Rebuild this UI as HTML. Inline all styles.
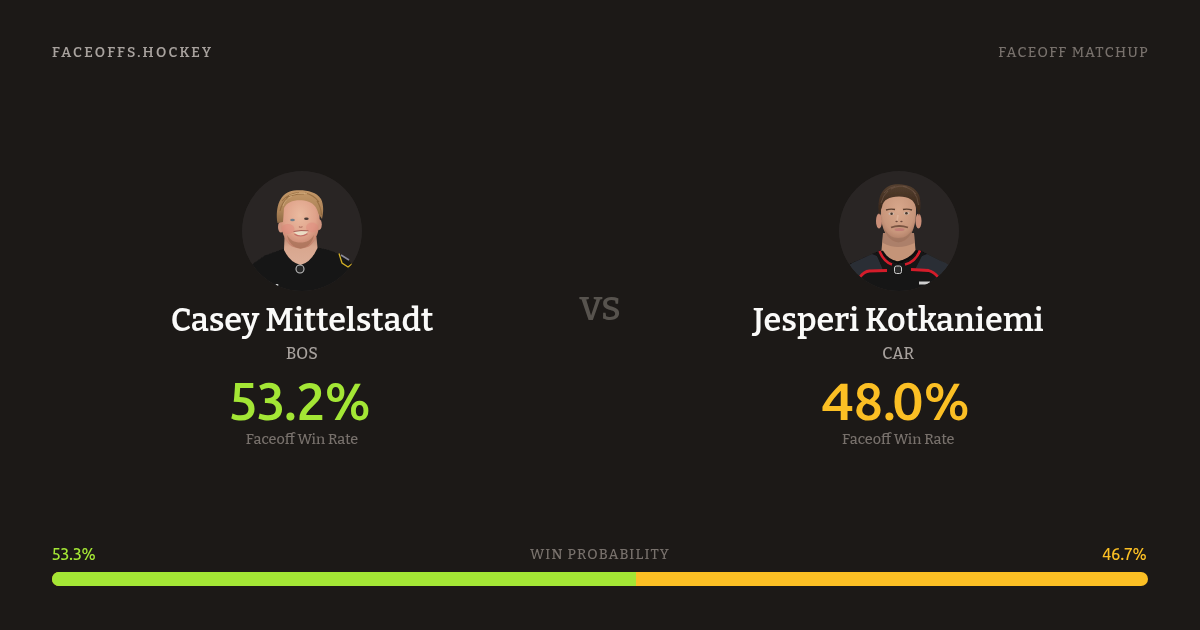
<!DOCTYPE html>
<html><head><meta charset="utf-8">
<style>
*{margin:0;padding:0;box-sizing:border-box}
html,body{width:1200px;height:630px;overflow:hidden;background:#1c1917}
body{position:relative;font-family:"Bitter","Liberation Serif",serif;}
.t{position:absolute;white-space:nowrap;line-height:1}
.sans{font-family:"Ubuntu Sans","Liberation Sans",sans-serif;font-variant-numeric:proportional-nums}
.brand{left:52px;top:45.5px;font-size:14px;letter-spacing:2.22px;color:#a8a29e;font-weight:600}
.tag{right:51px;top:45.5px;font-size:14px;letter-spacing:1.4px;color:#78716c;font-weight:500}
.c{text-align:center;width:500px}
.l{left:52px}.r{left:648.3px}
.photo{position:absolute;top:171px;width:120px;height:120px;border-radius:50%;background:#292524;overflow:hidden}
.p1{left:242px}.p2{left:839px}
.name{font-size:32.4px;font-weight:600;color:#fafaf9;top:305px}
.team{font-size:16px;color:#a8a29e;font-weight:500;top:346px;letter-spacing:0.2px}
.pct{font-size:52px;font-weight:600;top:377.2px}
.lbl{font-size:14.4px;color:#78716c;top:433px;font-weight:500}
.vs{left:552px;width:96px;text-align:center;top:293px;font-size:33px;font-weight:600;color:#57534e}
.bl{left:52px;top:547.2px;font-size:16.4px;font-weight:500;color:#a3e635}
.br{right:53.3px;top:547.2px;font-size:16.4px;font-weight:500;color:#fbbf24}
.bc{left:0;width:1200px;text-align:center;top:547.5px;font-size:14px;letter-spacing:1.25px;color:#78716c;font-weight:500}
.w4{display:inline-block;transform:scaleX(1.15);transform-origin:0 0;margin-right:4px}
.w0{display:inline-block;transform:scaleX(1.08);transform-origin:50% 0;margin-left:-2.6px;margin-right:0.2px}
.bar{position:absolute;left:52px;top:572px;width:1096px;height:14px;border-radius:7px;overflow:hidden;background:#fbbf24}
.bar .g{position:absolute;left:0;top:0;bottom:0;width:53.3%;background:#a3e635}
</style></head><body><div id="w" style="position:absolute;left:0;top:0;width:1200px;height:630px;will-change:transform">
<div class="t brand">FACEOFFS.HOCKEY</div>
<div class="t tag">FACEOFF MATCHUP</div>

<div class="photo p1"><svg width="120" height="120" viewBox="0 0 120 120">
<defs>
<clipPath id="cc1"><circle cx="60" cy="60" r="60"/></clipPath>
<filter id="sf1" x="-5%" y="-5%" width="110%" height="110%"><feGaussianBlur stdDeviation="0.65"/></filter>
<radialGradient id="sk1" cx="50%" cy="36%" r="62%"><stop offset="0" stop-color="#ebbba0"/><stop offset="0.65" stop-color="#dfa28a"/><stop offset="1" stop-color="#c4846e"/></radialGradient>
<linearGradient id="hr1" x1="0" y1="0" x2="0" y2="1"><stop offset="0" stop-color="#c49868"/><stop offset="0.6" stop-color="#ae8458"/><stop offset="1" stop-color="#8f6a45"/></linearGradient>
<linearGradient id="nk1" x1="0" y1="0" x2="0" y2="1"><stop offset="0" stop-color="#b98770"/><stop offset="0.35" stop-color="#d8a68e"/><stop offset="1" stop-color="#dcae97"/></linearGradient>
</defs>
<g clip-path="url(#cc1)">
<circle cx="60" cy="60" r="60" fill="#292524"/>
<g filter="url(#sf1)">
<path d="M6,120 L6,97 Q10,93 23,84.5 L41,78 L75,76.5 L87,79 L98,83.5 Q107,89 114,97 L114,120 Z" fill="#161616"/>
<path d="M42.5,66 L74.5,66 L75.5,77 Q69,91.5 58.5,94 Q48,91.5 42,79 Z" fill="url(#nk1)"/>
<ellipse cx="39" cy="56" rx="3" ry="5.5" fill="#d09580"/>
<ellipse cx="76.8" cy="53.5" rx="3" ry="5.5" fill="#d09580"/>
<path d="M38.5,44 C38,58 42,70 50,75.5 Q58.5,79.5 67,75.5 C74.5,70 78.5,58 77.5,44 C77,32 70,26 58,26 C46,26 39,32 38.5,44 Z" fill="url(#sk1)"/>
<path d="M45,64 C46,71 51,76.5 58.5,77.8 C66,76.5 71,71 72,64 C69,69 65,71.5 58.5,71.5 C52,71.5 48,69 45,64 Z" fill="#a87258" opacity="0.75"/>
<ellipse cx="46" cy="58" rx="6.5" ry="5" fill="#e0877c" opacity="0.5"/>
<ellipse cx="70" cy="56.5" rx="6" ry="5" fill="#e0877c" opacity="0.45"/>
<path d="M35.5,52 C33,36 38,21 52,19.5 C62,18.5 74,20 79,28 C82,34 81.5,42 80,48 L76.5,43 C75,36 71,31 62,29.5 C52,28.5 45,31 42,37 L41,51 Z" fill="url(#hr1)"/>
<path d="M40,30 Q47,22 57,21.5 M44,27 Q52,22.5 62,23 M63,22 Q72,24 77,31 M38,40 Q40,31 46,27 M75,30 Q79,36 79.5,44" stroke="#8a6238" stroke-width="1.1" fill="none" opacity="0.7"/>
<path d="M47,24.5 Q55,21 65,22.5 M41,35 Q43,28 50,25" stroke="#dcb888" stroke-width="1" fill="none" opacity="0.6"/>
<ellipse cx="50.5" cy="49" rx="2.3" ry="1.2" fill="#6f7f8a"/>
<ellipse cx="64.4" cy="47.8" rx="2.3" ry="1.2" fill="#4a3a36"/>
<path d="M57,55.5 Q58.5,57 60.5,55.5" stroke="#b77766" stroke-width="1.1" fill="none"/>
<path d="M51.5,60.5 Q59,59 66.5,59.8 Q64,64.5 59,64.6 Q54.5,64.6 51.5,60.5 Z" fill="#eadcc4"/>
<path d="M51.5,60.5 Q59,59 66.5,59.8" stroke="#a85a52" stroke-width="1" fill="none"/>
<path d="M52.5,63.2 Q59,67 65.5,62.8" stroke="#c47068" stroke-width="1.2" fill="none"/>
<path d="M54,98 a4,4 0 1,0 8,0 a4,4 0 1,0 -8,0" stroke="#bdbdbd" stroke-width="1.1" fill="#262626"/>
<path d="M97,82.5 L100,92 L106,96 L110,93" stroke="#d4b126" stroke-width="1.3" fill="none"/>
<path d="M99,84 L107,89" stroke="#8a8a9a" stroke-width="1.5" fill="none"/>
<ellipse cx="35" cy="114" rx="1.5" ry="1" fill="#ddd"/>
</g></g></svg></div>
<div class="t c l name">Casey Mittelstadt</div>
<div class="t c l team">BOS</div>
<div class="t c l pct sans" style="left:50.1px;color:#a3e635">53.2%</div>
<div class="t c l lbl">Faceoff Win Rate</div>

<div class="t vs">VS</div>

<div class="photo p2"><svg width="120" height="120" viewBox="0 0 120 120">
<defs>
<clipPath id="cc2"><circle cx="60" cy="60" r="60"/></clipPath>
<filter id="sf2" x="-5%" y="-5%" width="110%" height="110%"><feGaussianBlur stdDeviation="0.7"/></filter>
<radialGradient id="sk2" cx="50%" cy="35%" r="65%"><stop offset="0" stop-color="#d8a88c"/><stop offset="0.7" stop-color="#c8967b"/><stop offset="1" stop-color="#ab7a63"/></radialGradient>
<linearGradient id="hr2" x1="0" y1="0" x2="0" y2="1"><stop offset="0" stop-color="#55402f"/><stop offset="0.5" stop-color="#443022"/><stop offset="1" stop-color="#33241a"/></linearGradient>
</defs>
<g clip-path="url(#cc2)">
<circle cx="60" cy="60" r="60" fill="#292524"/>
<g filter="url(#sf2)">
<path d="M5,120 L5,97 Q11,92 20,89 L33,83 L41,79.5 L81,79 L88,83 L100,89 Q108,93 115,98 L115,120 Z" fill="#131313"/>
<path d="M7,96 Q12,92 20,89 L33,83 L38,85 L44,99 L29,100 Q24,101 21,106 L9,110 Z" fill="#2c2f35"/>
<path d="M113,96 Q108,92 100,89 L88,83 L83,85 L76,98.5 L90,99.5 Q95,101 98,106 L111,110 Z" fill="#2c2f35"/>
<path d="M44,62 L75,62 L76.5,79 Q70,89 59,90.5 Q48,89 42.5,79.5 Z" fill="#c49478"/>
<path d="M44,62 L75,62 L75.5,72 Q67,76 59.5,76 Q51,76 44,72 Z" fill="#9c7360" opacity="0.6"/>
<path d="M40.5,80 Q45,91 53,93.5" stroke="#d41e2c" stroke-width="2.6" fill="none"/>
<path d="M81,79.5 Q76.5,91 66,93.5" stroke="#d41e2c" stroke-width="2.6" fill="none"/>
<path d="M43,80 Q48,89 58.5,91.5 Q70,89 78.5,80" stroke="#111" stroke-width="2" fill="none"/>
<path d="M21,106 Q25,100.5 30.5,100 L48,99.5" stroke="#d41e2c" stroke-width="2.8" fill="none"/>
<path d="M72,98.5 L89.5,99.5 Q95,101 99,106" stroke="#d41e2c" stroke-width="2.8" fill="none"/>
<ellipse cx="40" cy="50" rx="3" ry="7.5" fill="#c98e78"/>
<ellipse cx="79.5" cy="50" rx="3" ry="7.5" fill="#c98e78"/>
<path d="M42,38 C41,54 46,65 53,69.5 Q59.5,72.5 66,69.5 C73,65 77.5,54 77,38 C77,27 70,22 59.5,22 C49,22 42,27 42,38 Z" fill="url(#sk2)"/>
<path d="M45,57 C47,65 52,70 59.5,71.5 C67,70 72,65 74.5,57 C70,64 66,67 59.5,67 C53,67 49,64 45,57 Z" fill="#9a705c" opacity="0.6"/>
<path d="M40,44 C38,28 42,16 55,13.5 C65,12 76,15 80,24 C82,30 82,38 80,45 L77,36 C75,29 70,25.5 60,25.5 C50,25.5 44,29 43,36 Z" fill="url(#hr2)"/>
<path d="M45,22 Q50,16 56,15.5 M52,18 Q60,13.5 68,16 M64,15.5 Q72,17 77,23 M42,32 Q44,24 49,20 M74,20 Q79,26 79.5,34" stroke="#6e5644" stroke-width="1" fill="none" opacity="0.7"/>
<path d="M59,44 L58,49.5" stroke="#e4bca4" stroke-width="1.6" fill="none" opacity="0.6"/>
<path d="M47,39 Q51.5,37.5 56,38.5" stroke="#5a3e2e" stroke-width="1.4" fill="none"/>
<path d="M64,38.5 Q68.5,37.5 73,39" stroke="#5a3e2e" stroke-width="1.4" fill="none"/>
<ellipse cx="52.4" cy="42.8" rx="3" ry="1.4" fill="#cdb8aa"/>
<ellipse cx="67.6" cy="42.3" rx="3" ry="1.4" fill="#cdb8aa"/>
<circle cx="52.6" cy="42.8" r="1.3" fill="#4a372c"/>
<circle cx="67.4" cy="42.3" r="1.3" fill="#4a372c"/>
<ellipse cx="57.6" cy="50.5" rx="1.2" ry="0.8" fill="#6e4a3e"/>
<ellipse cx="62.4" cy="50.5" rx="1.2" ry="0.8" fill="#6e4a3e"/>
<path d="M52,56.5 Q60,53.5 69,56.5" stroke="#7a5442" stroke-width="1.8" fill="none"/>
<ellipse cx="60.5" cy="58.6" rx="5" ry="1.5" fill="#c27d76"/>
<rect x="55.5" y="95" width="7" height="7.5" rx="2" fill="#2a2a2a" stroke="#cfcfcf" stroke-width="1"/>
<rect x="80" y="110.5" width="11" height="3" fill="#cfcfcf"/>
</g></g></svg></div>
<div class="t c r name">Jesperi Kotkaniemi</div>
<div class="t c r team">CAR</div>
<div class="t c r pct sans" style="left:645.2px;color:#fbbf24"><span class="w4">4</span>8.<span class="w0">0</span>%</div>
<div class="t c r lbl">Faceoff Win Rate</div>

<div class="t bl sans">53.3%</div>
<div class="t bc">WIN PROBABILITY</div>
<div class="t br sans">46.7%</div>
<div class="bar"><div class="g"></div></div>
</div></body></html>
